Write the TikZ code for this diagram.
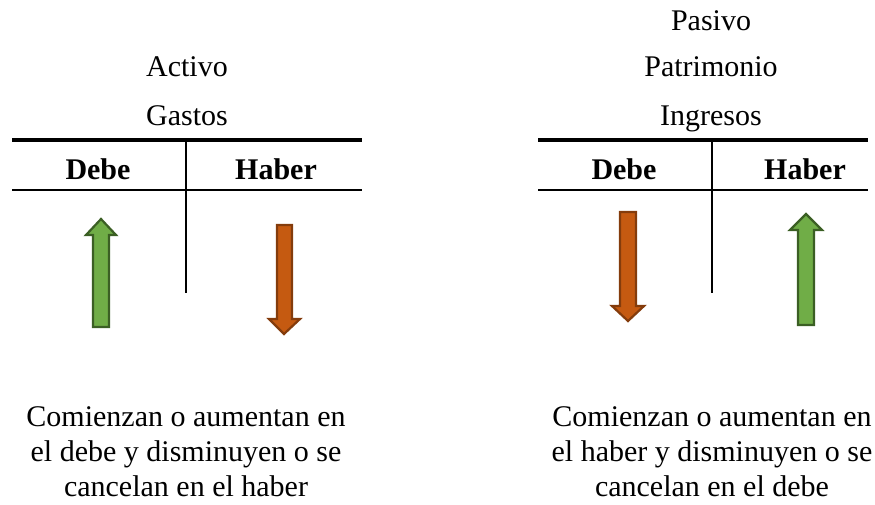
\documentclass[tikz,border=0pt]{standalone}
\usepackage{fontspec}
\setmainfont{Liberation Serif}
\definecolor{gfill}{HTML}{70AD47}
\definecolor{gline}{HTML}{3B5F24}
\definecolor{ofill}{HTML}{C55A11}
\definecolor{oline}{HTML}{843C0C}
\begin{document}
\begin{tikzpicture}[x=1pt,y=-1pt,
  lbl/.style={inner sep=0pt,anchor=base,font=\fontsize{30}{35}\selectfont},
  hdr/.style={lbl,font=\fontsize{30}{35}\selectfont\bfseries},
  para/.style={lbl,align=center,anchor=north},
  topline/.style={line width=3.5pt},
  midline/.style={line width=2pt},
  vline/.style={line width=1.6pt},
  uparrow/.style={fill=gfill,draw=gline,line width=2.2pt,line join=miter},
  downarrow/.style={fill=ofill,draw=oline,line width=2.2pt,line join=miter}]
\useasboundingbox (0,0) rectangle (875,505);
% ---- left account ----
\node[lbl] (act) at (187,77) {Activo};
\node[lbl] (gas) at (187,126) {Gastos};
\coordinate (l1a) at (12,140); \coordinate (l1b) at (362,140);
\coordinate (l2a) at (12,190); \coordinate (l2b) at (362,190);
\coordinate (lva) at (186,140); \coordinate (lvb) at (186,293);
\draw[topline] (l1a) -- (l1b);
\draw[midline] (l2a) -- (l2b);
\draw[vline] (lva) -- (lvb);
\node[hdr] (ld) at (98,180) {Debe};
\node[hdr] (lh) at (276,180) {Haber};
\draw[uparrow] (93,327) -- (93,235) -- (86,235) -- (101,219) -- (116,235) -- (109,235) -- (109,327) -- cycle;
\draw[downarrow] (277,225) -- (277,319) -- (269,319) -- (284,334) -- (300,319) -- (292,319) -- (292,225) -- cycle;
\node[para] (lt) at (186,406) {Comienzan o aumentan en\\el debe y disminuyen o se\\cancelan en el haber};
% ---- right account ----
\node[lbl] (pas) at (711,31) {Pasivo};
\node[lbl] (pat) at (711,77) {Patrimonio};
\node[lbl] (ing) at (711,126) {Ingresos};
\coordinate (r1a) at (538,140); \coordinate (r1b) at (868,140);
\coordinate (r2a) at (538,190); \coordinate (r2b) at (868,190);
\coordinate (rva) at (712,140); \coordinate (rvb) at (712,293);
\draw[topline] (r1a) -- (r1b);
\draw[midline] (r2a) -- (r2b);
\draw[vline] (rva) -- (rvb);
\node[hdr] (rd) at (624,180) {Debe};
\node[hdr] (rh) at (805,180) {Haber};
\draw[downarrow] (620,212) -- (620,306) -- (612,306) -- (628,321) -- (644,306) -- (636,306) -- (636,212) -- cycle;
\draw[uparrow] (798,325) -- (798,230) -- (790,230) -- (806,214) -- (822,230) -- (814,230) -- (814,325) -- cycle;
\node[para] (rt) at (712,406) {Comienzan o aumentan en\\el haber y disminuyen o se\\cancelan en el debe};
\end{tikzpicture}
\end{document}
